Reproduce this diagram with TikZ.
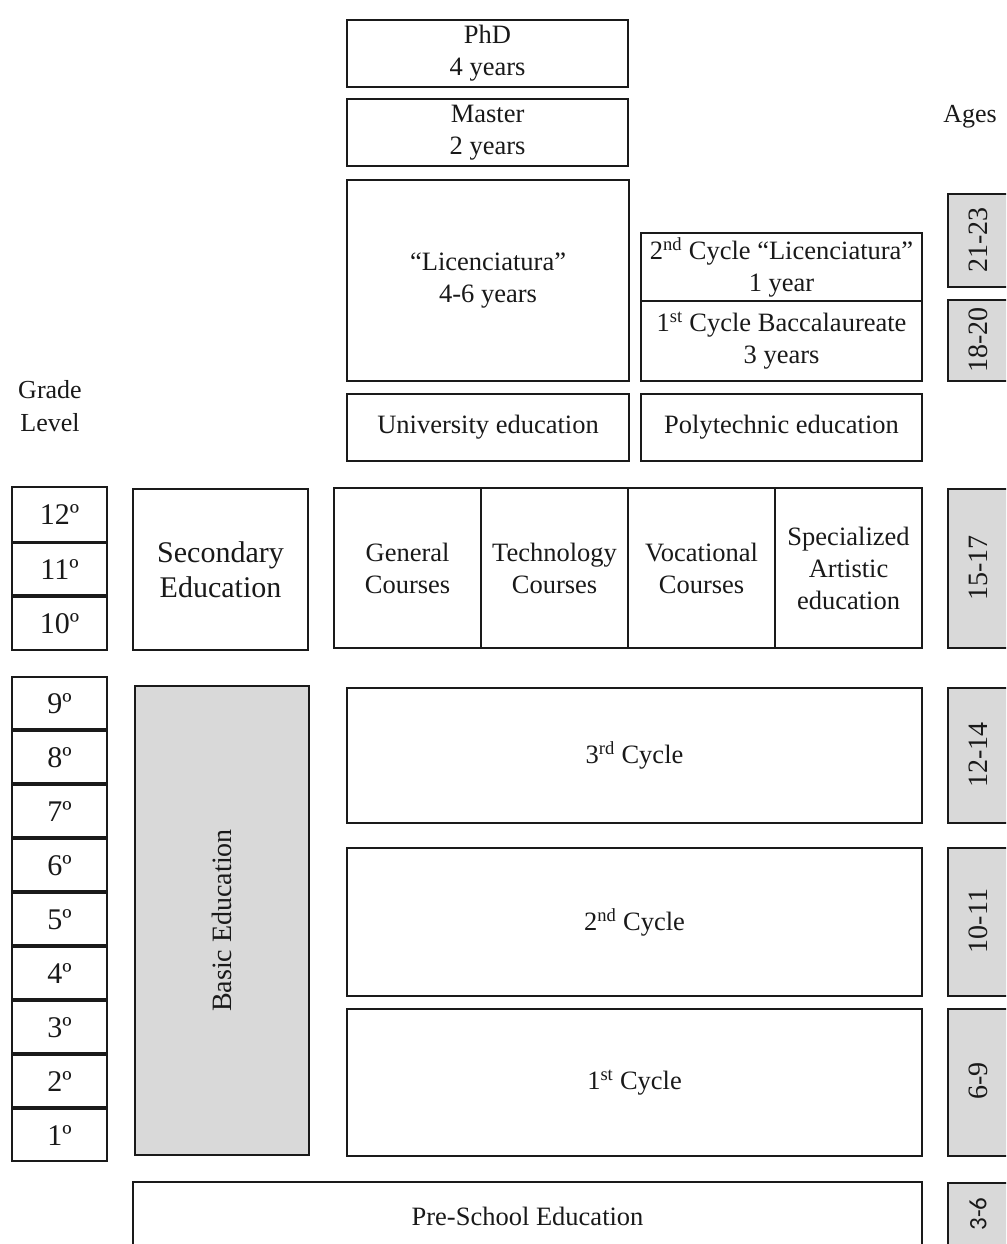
\documentclass[tikz,border=0pt]{standalone}
\usepackage{fontspec}
\setmainfont{Liberation Serif}
\setsansfont{Carlito}
\definecolor{agegray}{HTML}{D9D9D9}
\definecolor{lineblk}{HTML}{1A1A1A}
\newcommand\fsmain{\fontsize{26.5}{32}\selectfont}
\newcommand\fsbig{\fontsize{30}{35}\selectfont}
\newcommand\fsage{\fontsize{28}{32}\selectfont}
\tikzset{
  box/.style={draw=lineblk, line width=2.1pt, fill=white, anchor=north west,
    inner sep=0pt, align=center, font=\fsmain, text=black!90},
  agebox/.style={box, fill=agegray},
  gradebox/.style={box, font=\fsbig, minimum width=95pt},
  agetext/.style={rotate=90, font=\fsage, inner sep=0pt, text=black!90},
  plainlabel/.style={font=\fontsize{26}{33}\selectfont, align=center, inner sep=0pt, text=black!90}
}
\begin{document}
\begin{tikzpicture}[x=1pt,y=-1pt]
\useasboundingbox (0,0) rectangle (1006,1244);
\clip (0,0) rectangle (1006,1244);
% higher education
\node[box, minimum width=281pt, minimum height=67pt] (phd) at (346,19) {PhD\\4 years};
\node[box, minimum width=281pt, minimum height=67pt] (master) at (346,98) {Master\\2 years};
\node[box, minimum width=282pt, minimum height=201pt] (lic) at (346,179) {“Licenciatura”\\4-6 years};
\node[box, minimum width=281pt, minimum height=68pt] (lic2) at (640,232) {2\textsuperscript{nd} Cycle “Licenciatura”\\1 year};
\node[box, minimum width=281pt, minimum height=80pt] (bac) at (640,300) {1\textsuperscript{st} Cycle Baccalaureate\\3 years};
\node[box, minimum width=282pt, minimum height=67pt] (univ) at (346,393) {University education};
\node[box, minimum width=281pt, minimum height=67pt] (poly) at (640,393) {Polytechnic education};
% labels
\node[plainlabel] (ages) at (970,117) {Ages};
\node[plainlabel] (gradelevel) at (50,406) {Grade\\Level};
% secondary
\node[gradebox, minimum height=54.5pt] (g12) at (11,486) {12º};
\node[gradebox, minimum height=52pt] (g11) at (11,542) {11º};
\node[gradebox, minimum height=53pt] (g10) at (11,596) {10º};
\node[box, font=\fsbig, minimum width=175pt, minimum height=161pt] (sec) at (132,488) {Secondary\\Education};
\node[box, minimum width=147pt, minimum height=160pt] (gen) at (333,487) {General\\Courses};
\node[box, minimum width=147pt, minimum height=160pt] (tech) at (480,487) {Technology\\Courses};
\node[box, minimum width=147pt, minimum height=160pt] (voc) at (627,487) {Vocational\\Courses};
\node[box, minimum width=147pt, minimum height=160pt] (art) at (774,487) {Specialized\\Artistic\\education};
% basic
\node[gradebox, minimum height=52.3pt] (g9) at (11,676) {9º};
\node[gradebox, minimum height=52.3pt] (g8) at (11,730) {8º};
\node[gradebox, minimum height=52.3pt] (g7) at (11,784) {7º};
\node[gradebox, minimum height=52.3pt] (g6) at (11,838) {6º};
\node[gradebox, minimum height=52.3pt] (g5) at (11,892) {5º};
\node[gradebox, minimum height=52.3pt] (g4) at (11,946) {4º};
\node[gradebox, minimum height=52.3pt] (g3) at (11,1000) {3º};
\node[gradebox, minimum height=52.3pt] (g2) at (11,1054) {2º};
\node[gradebox, minimum height=52.3pt] (g1) at (11,1108) {1º};
\node[box, fill=agegray, minimum width=174pt, minimum height=469pt] (basic) at (134,685) {};
\node[rotate=90, font=\fontsize{28}{32}\selectfont, inner sep=0pt, text=black!90] (basictxt) at (basic.center) {Basic Education};
\node[box, minimum width=575pt, minimum height=135pt] (c3) at (346,687) {3\textsuperscript{rd} Cycle};
\node[box, minimum width=575pt, minimum height=148pt] (c2) at (346,847) {2\textsuperscript{nd} Cycle};
\node[box, minimum width=575pt, minimum height=147pt] (c1) at (346,1008) {1\textsuperscript{st} Cycle};
\node[box, minimum width=789pt, minimum height=68pt] (pre) at (132,1181) {Pre-School Education};
% ages
\node[agebox, minimum width=70pt, minimum height=93pt] (a2123) at (947,193) {};
\node[agebox, minimum width=70pt, minimum height=81pt] (a1820) at (947,299) {};
\node[agebox, minimum width=70pt, minimum height=159pt] (a1517) at (947,488) {};
\node[agebox, minimum width=70pt, minimum height=135pt] (a1214) at (947,687) {};
\node[agebox, minimum width=70pt, minimum height=148pt] (a1011) at (947,847) {};
\node[agebox, minimum width=70pt, minimum height=147pt] (a69) at (947,1008) {};
\node[agebox, minimum width=70pt, minimum height=68pt] (a36) at (947,1182) {};
\node[agetext] (t2123) at (978,240) {21-23};
\node[agetext] (t1820) at (978,340) {18-20};
\node[agetext] (t1517) at (978,568) {15-17};
\node[agetext] (t1214) at (978,755) {12-14};
\node[agetext] (t1011) at (978,921) {10-11};
\node[agetext] (t69) at (978,1081) {6-9};
\node[agetext, font=\sffamily\fontsize{25}{28}\selectfont] (t36) at (978,1214) {3-6};
\end{tikzpicture}
\end{document}
